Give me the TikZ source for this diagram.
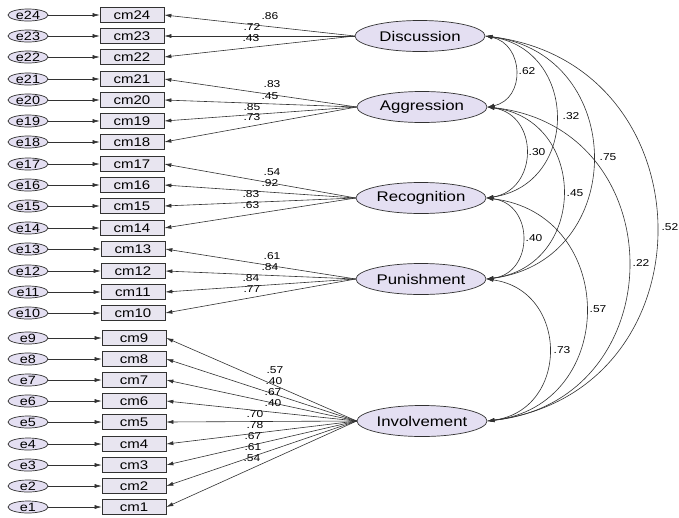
\documentclass[tikz,border=0pt]{standalone}
\usepackage{fontspec}
\setmainfont[FakeStretch=1.2]{Liberation Sans}
\usetikzlibrary{arrows.meta,shapes.geometric}
\definecolor{latfill}{RGB}{228,223,242}
\definecolor{boxfill}{RGB}{232,229,240}
\definecolor{linec}{RGB}{50,50,50}
\begin{document}
\begin{tikzpicture}[x=1pt,y=-1pt,
  >={Latex[length=7pt,width=4pt]},
  errnode/.style={ellipse,draw=linec,fill=latfill,line width=0.7pt,minimum width=40pt,minimum height=12pt,inner sep=0pt,font=\fontsize{12}{12}\selectfont},
  obsbox/.style={rectangle,draw=linec,fill=boxfill,line width=0.7pt,minimum width=64pt,minimum height=15pt,inner sep=0pt,font=\fontsize{12.5}{12.5}\selectfont},
  latnode/.style={ellipse,draw=linec,fill=latfill,line width=0.7pt,minimum width=130pt,minimum height=31pt,inner sep=0pt,font=\fontsize{14}{14}\selectfont},
  arr/.style={->,draw=linec,line width=0.6pt},
  arrtwo/.style={<->,draw=linec,line width=0.6pt},
  lbl/.style={inner sep=0pt,font=\fontsize{10}{10}\selectfont}]
\fill[white] (0,0) rectangle (679,517);
\useasboundingbox (0,0) rectangle (679,517);

% latent variables
\node[latnode] (D) at (420,36)  {Discussion};
\node[latnode] (A) at (422,107) {Aggression};
\node[latnode] (R) at (421,198) {Recognition};
\node[latnode] (P) at (421,279) {Punishment};
\node[latnode] (I) at (422,421) {Involvement};

% error terms and indicators
\foreach \i/\y/\bx in {24/15/132,23/36/132,22/57/132,21/79/132,20/100/132,19/121/132,18/142/132,17/164/132,16/185/132,15/206/132,14/228/132,13/249/133,12/271/133,11/292/133,10/313/133,9/338/134,8/359/134,7/380/134,6/401/134,5/422/134,4/444/134,3/465/134,2/486/134,1/507/134}{
  \node[errnode] (e\i) at (28,\y) {e\i};
  \node[obsbox] (cm\i) at (\bx,\y) {cm\i};
  \draw[arr] (e\i) -- (cm\i);
}

% loadings
\foreach \i/\l in {24/D,23/D,22/D,21/A,20/A,19/A,18/A,17/R,16/R,15/R,14/R,13/P,12/P,11/P,10/P,9/I,8/I,7/I,6/I,5/I,4/I,3/I,2/I,1/I}{
  \draw[arr] (\l.west) -- (cm\i.east);
}

% loading labels
\foreach \t/\x/\y in {.86/270/16,.72/252/27,.43/251/38,
  .83/272/84,.45/270/96,.85/252/107,.73/252/117,
  .54/272/172,.92/270/183,.83/251/194,.63/251/205,
  .61/272/256,.84/270/267,.84/251/278,.77/252/289,
  .57/275/370,.40/274/381,.67/273/392,.40/273/403,.70/255/414,.78/255/425,.67/253/436,.61/253/447,.54/252/458}{
  \node[lbl] at (\x,\y) {\t};
}

% covariances
\draw[arrtwo] (D.east) .. controls +(38.7,7.9) and +(38.7,-7.9) .. (A.east);
\draw[arrtwo] (D.east) .. controls +(93.3,13.7) and +(93.3,-13.7) .. (R.east);
\draw[arrtwo] (D.east) .. controls +(142.7,18.2) and +(142.7,-18.2) .. (P.east);
\draw[arrtwo] (D.east) .. controls +(226.7,28.2) and +(226.7,-28.2) .. (I.east);
\draw[arrtwo] (A.east) .. controls +(52,8) and +(52,-8) .. (R.east);
\draw[arrtwo] (A.east) .. controls +(101.3,12.6) and +(101.3,-12.6) .. (P.east);
\draw[arrtwo] (A.east) .. controls +(188,20.3) and +(188,-20.3) .. (I.east);
\draw[arrtwo] (R.east) .. controls +(48,5.7) and +(48,-5.7) .. (P.east);
\draw[arrtwo] (R.east) .. controls +(132,15.7) and +(132,-15.7) .. (I.east);
\draw[arrtwo] (P.east) .. controls +(82.7,11.2) and +(82.7,-11.2) .. (I.east);

% covariance labels
\foreach \t/\x/\y in {.62/527/71,.32/571/116,.75/608/157,.30/537/152,.45/575/193,.22/641/263,.40/534/238,.57/598/309,.73/562/350}{
  \node[lbl] at (\x,\y) {\t};
}
\node[lbl,anchor=east] at (678.5,227) {.52};
\end{tikzpicture}
\end{document}
